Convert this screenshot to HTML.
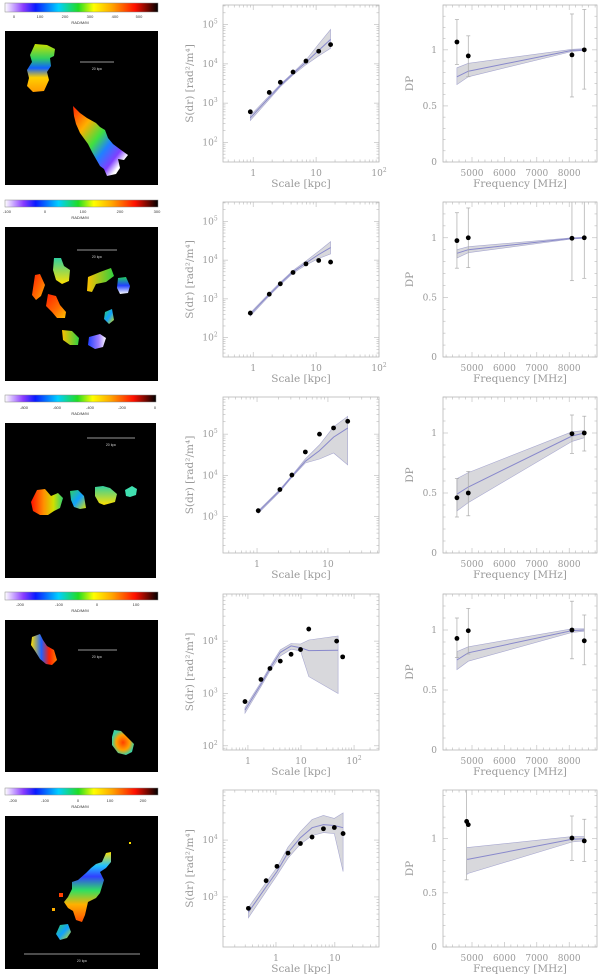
<!DOCTYPE html>
<html><head><meta charset="utf-8">
<style>
html,body{margin:0;padding:0;background:#fff;}
svg{display:block;font-family:"DejaVu Serif","Liberation Serif",serif;}
</style></head>
<body>
<svg id="fig" width="600" height="976" viewBox="0 0 600 976" xmlns="http://www.w3.org/2000/svg">
<defs>
<linearGradient id="cmap" x1="0" x2="1" y1="0" y2="0">
<stop offset="0" stop-color="#ffffff"/><stop offset="0.12" stop-color="#8a3cff"/><stop offset="0.2" stop-color="#0a1aff"/>
<stop offset="0.35" stop-color="#00d0ff"/><stop offset="0.48" stop-color="#22dd22"/><stop offset="0.58" stop-color="#ffff00"/>
<stop offset="0.7" stop-color="#ffa500"/><stop offset="0.85" stop-color="#ff1000"/><stop offset="1" stop-color="#000000"/>
</linearGradient>
<linearGradient id="gA" x1="0" x2="0" y1="0" y2="1"><stop offset="0" stop-color="#c8e000"/><stop offset="0.3" stop-color="#30d060"/><stop offset="0.5" stop-color="#1060ff"/><stop offset="0.7" stop-color="#ffd000"/><stop offset="1" stop-color="#ff9a00"/></linearGradient>
<linearGradient id="gB" x1="0" x2="1" y1="0" y2="1"><stop offset="0" stop-color="#ff2000"/><stop offset="0.25" stop-color="#ffb000"/><stop offset="0.45" stop-color="#40e040"/><stop offset="0.6" stop-color="#2080ff"/><stop offset="0.75" stop-color="#8040ff"/><stop offset="0.85" stop-color="#ffffff"/><stop offset="1" stop-color="#ffffff"/></linearGradient>
<linearGradient id="gRed" x1="0" x2="1" y1="0" y2="1"><stop offset="0" stop-color="#ff2000"/><stop offset="0.6" stop-color="#ff7000"/><stop offset="1" stop-color="#ffc000"/></linearGradient>
<linearGradient id="gYG" x1="0" x2="1" y1="0" y2="0"><stop offset="0" stop-color="#ffc000"/><stop offset="1" stop-color="#30d040"/></linearGradient>
<linearGradient id="gCY" x1="0" x2="0" y1="0" y2="1"><stop offset="0" stop-color="#30d0a0"/><stop offset="1" stop-color="#ffe000"/></linearGradient>
<linearGradient id="gBW" x1="0" x2="0" y1="0" y2="1"><stop offset="0" stop-color="#20d060"/><stop offset="0.5" stop-color="#2040ff"/><stop offset="1" stop-color="#ffffff"/></linearGradient>
<linearGradient id="gBlueW" x1="0" x2="1" y1="0" y2="0"><stop offset="0" stop-color="#2040ff"/><stop offset="0.6" stop-color="#a080ff"/><stop offset="1" stop-color="#ffffff"/></linearGradient>
<linearGradient id="gR3" x1="0" x2="1" y1="0" y2="0"><stop offset="0" stop-color="#ff1000"/><stop offset="0.4" stop-color="#ff9000"/><stop offset="0.7" stop-color="#d0e000"/><stop offset="1" stop-color="#30d070"/></linearGradient>
<linearGradient id="gGC" x1="0" x2="1" y1="0" y2="1"><stop offset="0" stop-color="#30d060"/><stop offset="0.5" stop-color="#10a0ff"/><stop offset="1" stop-color="#e0e000"/></linearGradient>
<linearGradient id="gR4a" x1="0" x2="1" y1="0" y2="0"><stop offset="0" stop-color="#ffe000"/><stop offset="0.4" stop-color="#2060ff"/><stop offset="0.7" stop-color="#ff2000"/><stop offset="1" stop-color="#ff8000"/></linearGradient>
<radialGradient id="gR4b"><stop offset="0" stop-color="#ff4000"/><stop offset="0.6" stop-color="#ffa000"/><stop offset="1" stop-color="#40d0a0"/></radialGradient>
<linearGradient id="gR5" x1="0" x2="0" y1="0" y2="1"><stop offset="0" stop-color="#ffe000"/><stop offset="0.2" stop-color="#20c0ff"/><stop offset="0.35" stop-color="#3040ff"/><stop offset="0.55" stop-color="#30e060"/><stop offset="0.75" stop-color="#ffb000"/><stop offset="1" stop-color="#ff5000"/></linearGradient>
</defs>

<g>
<rect x="5" y="3" width="153" height="9" fill="url(#cmap)" stroke="#888" stroke-width="0.5"/>
<g font-size="4" fill="#333" font-family="Liberation Sans,sans-serif" text-anchor="middle">
<text x="14" y="18">0</text><text x="40" y="18">100</text><text x="65" y="18">200</text><text x="90" y="18">300</text><text x="115" y="18">400</text><text x="139" y="18">500</text>
<text x="80" y="24">RAD/M/M</text></g>
<rect x="5" y="31" width="153" height="154" fill="#000"/>
<polygon points="35,44 47,45 55,49 54,56 50,58 51,66 47,72 49,80 44,91 33,92 27,86 29,78 27,70 32,62 30,55" fill="url(#gA)"/>
<polygon points="73,106 80,113 87,118 96,123 100,127 105,130 108,138 113,144 121,150 128,155 124,160 118,159 120,168 116,174 107,176 104,169 100,166 92,152 88,144 80,133 76,124 74,116" fill="url(#gB)"/>
<line x1="80" y1="62" x2="114" y2="62" stroke="#ccc" stroke-width="0.8"/><text x="97" y="70" font-size="3.5" fill="#ccc" text-anchor="middle" font-family="Liberation Sans,sans-serif">20 kpc</text>
</g>

<g>
<rect x="5" y="200" width="153" height="7" fill="url(#cmap)" stroke="#888" stroke-width="0.5"/>
<g font-size="4" fill="#333" font-family="Liberation Sans,sans-serif" text-anchor="middle">
<text x="7" y="213">-100</text><text x="45" y="213">0</text><text x="83" y="213">100</text><text x="120" y="213">200</text><text x="157" y="213">300</text>
<text x="80" y="219">RAD/M/M</text></g>
<rect x="5" y="227" width="153" height="154" fill="#000"/>
<polygon points="35,275 40,274 45,285 41,296 36,300 32,295" fill="url(#gRed)"/>
<polygon points="48,294 56,296 60,305 66,312 65,318 57,318 52,312 46,306" fill="url(#gRed)"/>
<polygon points="54,258 61,258 64,266 70,270 69,281 62,284 56,280 53,270" fill="url(#gCY)"/>
<polygon points="88,277 100,272 111,268 114,276 106,282 96,284 92,292 87,291" fill="url(#gYG)"/>
<polygon points="118,278 126,277 130,286 128,293 120,294 117,288" fill="url(#gBW)"/>
<polygon points="105,312 112,309 114,320 109,324 104,319" fill="url(#gGC)"/>
<polygon points="62,330 72,331 79,338 78,345 70,345 63,340" fill="url(#gYG)"/>
<polygon points="89,337 100,334 106,338 103,347 95,349 88,345" fill="url(#gBlueW)"/>
<line x1="77" y1="250" x2="117" y2="250" stroke="#ccc" stroke-width="0.8"/><text x="97" y="258" font-size="3.5" fill="#ccc" text-anchor="middle" font-family="Liberation Sans,sans-serif">20 kpc</text>
</g>

<g>
<rect x="5" y="395" width="151" height="7" fill="url(#cmap)" stroke="#888" stroke-width="0.5"/>
<g font-size="4" fill="#333" font-family="Liberation Sans,sans-serif" text-anchor="middle">
<text x="24" y="409">-800</text><text x="57" y="409">-600</text><text x="90" y="409">-400</text><text x="122" y="409">-200</text><text x="155" y="409">0</text>
<text x="80" y="415">RAD/M/M</text></g>
<rect x="5" y="423" width="151" height="155" fill="#000"/>
<polygon points="37,490 45,489 51,496 58,493 63,498 60,508 54,511 48,515 40,515 33,511 31,502" fill="url(#gR3)"/>
<polygon points="70,491 78,490 84,496 86,508 80,509 74,507 71,500" fill="url(#gGC)"/>
<polygon points="95,487 103,486 110,488 117,494 115,502 104,505 99,503 95,496" fill="url(#gCY)"/>
<polygon points="125,490 132,486 137,489 136,495 130,497 126,496" fill="#40e0b0"/>
<line x1="87" y1="438" x2="135" y2="438" stroke="#ccc" stroke-width="0.8"/><text x="111" y="446" font-size="3.5" fill="#ccc" text-anchor="middle" font-family="Liberation Sans,sans-serif">20 kpc</text>
</g>

<g>
<rect x="5" y="592" width="153" height="8" fill="url(#cmap)" stroke="#888" stroke-width="0.5"/>
<g font-size="4" fill="#333" font-family="Liberation Sans,sans-serif" text-anchor="middle">
<text x="20" y="606">-200</text><text x="59" y="606">-100</text><text x="97" y="606">0</text><text x="136" y="606">100</text>
<text x="80" y="612">RAD/M/M</text></g>
<rect x="5" y="620" width="153" height="152" fill="#000"/>
<polygon points="32,637 40,634 43,640 47,646 54,650 57,660 52,665 46,664 40,659 35,651 31,645" fill="url(#gR4a)"/>
<polygon points="114,730 121,731 128,738 134,744 132,752 126,755 118,753 112,745 112,737" fill="url(#gR4b)"/>
<line x1="78" y1="650" x2="117" y2="650" stroke="#ccc" stroke-width="0.8"/><text x="97" y="658" font-size="3.5" fill="#ccc" text-anchor="middle" font-family="Liberation Sans,sans-serif">20 kpc</text>
</g>

<g>
<rect x="5" y="788" width="153" height="7" fill="url(#cmap)" stroke="#888" stroke-width="0.5"/>
<g font-size="4" fill="#333" font-family="Liberation Sans,sans-serif" text-anchor="middle">
<text x="13" y="802">-200</text><text x="45" y="802">-100</text><text x="78" y="802">0</text><text x="110" y="802">100</text><text x="143" y="802">200</text>
<text x="80" y="808">RAD/M/M</text></g>
<rect x="5" y="816" width="153" height="153" fill="#000"/>
<polygon points="106,853 111,852 111,862 106,868 100,872 104,880 100,893 96,898 88,902 85,915 82,922 76,920 73,911 68,908 64,902 68,897 72,889 72,882 78,880 86,873 91,868 96,864 102,862" fill="url(#gR5)"/>
<polygon points="60,925 68,924 71,932 67,938 60,940 56,934" fill="url(#gGC)"/>
<rect x="59" y="893" width="4" height="4" fill="#ff4000"/><rect x="52" y="908" width="3" height="3" fill="#ffb000"/><rect x="129" y="842" width="2" height="2" fill="#ffe000"/>
<line x1="24" y1="954" x2="140" y2="954" stroke="#ccc" stroke-width="0.8"/><text x="82" y="962" font-size="3.5" fill="#ccc" text-anchor="middle" font-family="Liberation Sans,sans-serif">20 kpc</text>
</g>

<g id="plots"></g>
</svg>
<script>
// ---- Structure function data (Scale kpc, S(dr) rad^2/m^4) ----
const sfScale1=[0.9,1.8,2.7,4.3,6.9,11,17];
const sfValue1=[600,1870,3400,6200,11800,21000,31000];
const sfModel1=[420,1400,2800,5600,11000,22000,42000];
const sfLow1=[360,1250,2600,5200,9500,16000,25000];
const sfHigh1=[480,1550,3000,6000,12500,32000,75000];

const sfScale2=[0.9,1.8,2.7,4.3,6.9,11,17];
const sfValue2=[430,1320,2450,4800,8000,9800,8900];
const sfModel2=[400,1300,2500,5000,8500,14000,21000];
const sfLow2=[360,1200,2300,4600,7500,11000,14500];
const sfHigh2=[440,1400,2700,5400,9500,17000,30000];

const sfScale3=[1.04,2.1,3.1,4.8,7.6,12,19];
const sfValue3=[1400,4550,10200,37000,100000,141000,205000];
const sfModel3=[1300,4300,9500,22000,40000,85000,140000];
const sfLow3=[1200,4000,9000,20000,25000,35000,18000];
const sfHigh3=[1400,4600,10000,25000,55000,150000,270000];

const sfScale4=[0.88,1.76,2.6,4.07,6.5,9.8,14,47,61];
const sfValue4=[700,1850,3000,4150,5600,6900,17000,10000,5000];
const sfModelScale4=[0.88,1.76,2.6,4.07,6.5,9.8,14,50];
const sfModel4=[480,1500,3000,6100,8100,7500,6600,6700];
const sfLow4=[420,1350,2700,5200,7000,6500,2100,1000];
const sfHigh4=[540,1650,3300,6800,9000,8800,10500,12500];

const sfScale5=[0.34,0.68,1.04,1.6,2.6,4.1,6.4,9.8,13.8];
const sfValue5=[630,1930,3450,5900,8700,11300,15800,16600,13000];
const sfModel5=[540,1500,2800,6000,11000,16500,18700,18000,16500];
const sfLow5=[430,1250,2400,4800,8500,12000,13500,13000,2800];
const sfHigh5=[650,1800,3300,7500,14000,23000,27000,24000,30000];

// ---- Depolarization data (Frequency MHz, DP) ----
const dpFreq1=[4535,4885,8085,8465];
const dpValue1=[1.07,0.946,0.955,1.0];
const dpErrHi1=[1.27,1.125,1.32,1.36];
const dpErrLo1=[0.87,0.76,0.58,0.65];
const dpModel1=[0.76,0.81,0.995,1.0];
const dpLow1=[0.69,0.76,0.985,0.995];
const dpHigh1=[0.84,0.88,1.005,1.01];

const dpFreq2=[4535,4885,8085,8465];
const dpValue2=[0.976,1.0,0.996,1.0];
const dpErrHi2=[1.21,1.25,1.35,1.35];
const dpErrLo2=[0.745,0.75,0.64,0.66];
const dpModel2=[0.87,0.9,0.995,1.0];
const dpLow2=[0.83,0.875,0.99,0.995];
const dpHigh2=[0.9,0.925,1.0,1.005];

const dpFreq3=[4535,4885,8085,8465];
const dpValue3=[0.46,0.5,0.994,1.0];
const dpErrHi3=[0.62,0.68,1.15,1.14];
const dpErrLo3=[0.30,0.31,0.83,0.85];
const dpModel3=[0.49,0.55,0.975,1.0];
const dpLow3=[0.35,0.42,0.93,0.96];
const dpHigh3=[0.62,0.67,1.01,1.02];

const dpFreq4=[4535,4885,8085,8465];
const dpValue4=[0.93,0.994,1.0,0.91];
const dpErrHi4=[1.1,1.18,1.24,1.125];
const dpErrLo4=[0.77,0.8,0.76,0.71];
const dpModel4=[0.75,0.81,0.995,1.0];
const dpLow4=[0.67,0.74,0.98,0.99];
const dpHigh4=[0.82,0.86,1.01,1.01];

const dpFreq5=[4835,4885,8085,8465];
const dpValue5=[1.16,1.13,1.006,0.98];
const dpErrHi5=[1.6,1.13,1.21,1.18];
const dpErrLo5=[0.62,1.13,0.8,0.79];
const dpModel5=[0.81,0.81,0.995,1.0];
const dpLow5=[0.67,0.68,0.97,0.98];
const dpHigh5=[0.92,0.92,1.02,1.02];

const dpTickLabels=[5000,6000,7000,8000];

const NS="http://www.w3.org/2000/svg";
const root=document.getElementById('plots');
function mk(tag,attrs,parent){const e=document.createElementNS(NS,tag);for(const k in attrs)e.setAttribute(k,attrs[k]);(parent||root).appendChild(e);return e;}

const AX='#b8b8b8', TXT='#9a9a9a', LINE='#8888cc', BAND='#d8d8dc';
const TFS=9, TITFS=10.5;
const rowTops=[5,202,397,594,790];
const rowH=[157,155,156,156,157];
const midX0=223, midX1=379, rX0=443, rX1=597;
const sfXr=[[-0.48,2],[-0.48,2],[-0.48,1.72],[-0.47,2.47],[-0.9,1.75]];
const sfYr=[[1.5,5.5],[1.5,5.5],[2.12,5.9],[1.92,4.9],[2.12,4.88]];
const dpYmax=[1.4,1.3,1.3,1.3,1.45];
const dpXr=[4105,8858];

const sfSets=[
 [sfScale1,sfValue1,sfScale1,sfModel1,sfLow1,sfHigh1],
 [sfScale2,sfValue2,sfScale2,sfModel2,sfLow2,sfHigh2],
 [sfScale3,sfValue3,sfScale3,sfModel3,sfLow3,sfHigh3],
 [sfScale4,sfValue4,sfModelScale4,sfModel4,sfLow4,sfHigh4],
 [sfScale5,sfValue5,sfScale5,sfModel5,sfLow5,sfHigh5]];
const dpSets=[
 [dpFreq1,dpValue1,dpErrHi1,dpErrLo1,dpModel1,dpLow1,dpHigh1],
 [dpFreq2,dpValue2,dpErrHi2,dpErrLo2,dpModel2,dpLow2,dpHigh2],
 [dpFreq3,dpValue3,dpErrHi3,dpErrLo3,dpModel3,dpLow3,dpHigh3],
 [dpFreq4,dpValue4,dpErrHi4,dpErrLo4,dpModel4,dpLow4,dpHigh4],
 [dpFreq5,dpValue5,dpErrHi5,dpErrLo5,dpModel5,dpLow5,dpHigh5]];

function pathOf(xs,ys){return xs.map((x,i)=>(i?'L':'M')+x.toFixed(1)+','+ys[i].toFixed(1)).join(' ');}

for(let r=0;r<5;r++){
 const top=rowTops[r], h=rowH[r], bot=top+h;
 const g=mk('g',{});
 
 
 const [xa,xb]=sfXr[r],[ya,yb]=sfYr[r];
 const sx=v=>midX0+(Math.log10(v)-xa)/(xb-xa)*(midX1-midX0);
 const sy=v=>bot-(Math.log10(v)-ya)/(yb-ya)*h;
 const cid='clipSF'+r;
 const cp=mk('clipPath',{id:cid},g); mk('rect',{x:midX0,y:top,width:midX1-midX0,height:h},cp);
 const [pS,pV,mS,mV,mL,mH]=sfSets[r];
 const mx=mS.map(sx);
 const band=mk('path',{d:pathOf(mx,mH.map(sy))+' '+pathOf(mx.slice().reverse(),mL.map(sy).reverse()).replace('M','L')+' Z',fill:BAND,stroke:'#a8a8d0','stroke-width':0.6,'clip-path':'url(#'+cid+')'},g);
 
 
 const ml=mk('path',{d:pathOf(mx,mV.map(sy)),fill:'none',stroke:LINE,'stroke-width':1,'clip-path':'url(#'+cid+')'},g);
 
 
 pS.forEach((s,i)=>{const c=mk('circle',{cx:sx(s),cy:sy(pV[i]),r:2.4,fill:'#000'},g);
  
  });
 mk('rect',{x:midX0,y:top,width:midX1-midX0,height:h,fill:'none',stroke:AX,'stroke-width':0.8},g);
 for(let d=Math.floor(xa);d<=Math.ceil(xb);d++){for(let m=1;m<10;m++){const lv=d+Math.log10(m);if(lv<xa||lv>xb)continue;const x=midX0+(lv-xa)/(xb-xa)*(midX1-midX0);const L=m==1?5:2.5;
  mk('line',{x1:x,x2:x,y1:bot,y2:bot-L,stroke:AX,'stroke-width':0.6},g);mk('line',{x1:x,x2:x,y1:top,y2:top+L,stroke:AX,'stroke-width':0.6},g);
  if(m==1){const t=mk('text',{x:x,y:bot+14,'font-size':TFS,fill:TXT,'text-anchor':'middle'},g);
   if(d<=1){t.textContent=d==0?'1':'10';}else{t.textContent='10';const sp=mk('tspan',{dy:-4,'font-size':6},t);sp.textContent=String(d);}
   
   }}}
 for(let d=Math.floor(ya);d<=Math.ceil(yb);d++){for(let m=1;m<10;m++){const lv=d+Math.log10(m);if(lv<ya||lv>yb)continue;const y=bot-(lv-ya)/(yb-ya)*h;const L=m==1?5:2.5;
  mk('line',{x1:midX0,x2:midX0+L,y1:y,y2:y,stroke:AX,'stroke-width':0.6},g);mk('line',{x1:midX1,x2:midX1-L,y1:y,y2:y,stroke:AX,'stroke-width':0.6},g);
  if(m==1){const t=mk('text',{x:midX0-13,y:y+3,'font-size':TFS,fill:TXT,'text-anchor':'middle'},g);t.textContent='10';const sp=mk('tspan',{dy:-4,'font-size':6},t);sp.textContent=String(d);
   
   }}}
 const xl=mk('text',{x:(midX0+midX1)/2,y:bot+25,'font-size':TITFS,fill:TXT,'text-anchor':'middle'},g);xl.textContent='Scale [kpc]';
 
 
 const yl=mk('text',{x:0,y:0,'font-size':TITFS,fill:TXT,'text-anchor':'middle',transform:'translate(193,'+(top+h/2)+') rotate(-90)'},g);
 yl.textContent='S(dr) [rad²/m⁴]';
 
 

 const q=mk('g',{});
 
 
 const ym=dpYmax[r];
 const fx=f=>rX0+(f-dpXr[0])/(dpXr[1]-dpXr[0])*(rX1-rX0);
 const fy=v=>bot-v/ym*h;
 const cid2='clipDP'+r;
 const cp2=mk('clipPath',{id:cid2},q); mk('rect',{x:rX0,y:top,width:rX1-rX0,height:h},cp2);
 const [F,V,EH,EL,M,ML,MH]=dpSets[r];
 const fxs=F.map(fx);
 const b2=mk('path',{d:pathOf(fxs,MH.map(fy))+' '+pathOf(fxs.slice().reverse(),ML.map(fy).reverse()).replace('M','L')+' Z',fill:BAND,stroke:'#a8a8d0','stroke-width':0.6},q);
 
 
 const l2=mk('path',{d:pathOf(fxs,M.map(fy)),fill:'none',stroke:LINE,'stroke-width':1},q);
 
 
 F.forEach((f,i)=>{const x=fx(f);
  const eb=mk('g',{'clip-path':'url(#'+cid2+')'},q);
  mk('line',{x1:x,x2:x,y1:fy(EH[i]),y2:fy(EL[i]),stroke:'#aaa','stroke-width':0.7},eb);
  mk('line',{x1:x-2,x2:x+2,y1:fy(EH[i]),y2:fy(EH[i]),stroke:'#aaa','stroke-width':0.7},eb);
  mk('line',{x1:x-2,x2:x+2,y1:fy(EL[i]),y2:fy(EL[i]),stroke:'#aaa','stroke-width':0.7},eb);
  
  
  const c=mk('circle',{cx:x,cy:fy(V[i]),r:2.4,fill:'#000'},q);
  
  });
 mk('rect',{x:rX0,y:top,width:rX1-rX0,height:h,fill:'none',stroke:AX,'stroke-width':0.8},q);
 for(let f=4200;f<=8800;f+=200){const x=fx(f);const L=f%1000==0?5:2.5;
  mk('line',{x1:x,x2:x,y1:bot,y2:bot-L,stroke:AX,'stroke-width':0.6},q);mk('line',{x1:x,x2:x,y1:top,y2:top+L,stroke:AX,'stroke-width':0.6},q);}
 dpTickLabels.forEach(f=>{const t=mk('text',{x:fx(f),y:bot+14,'font-size':TFS,fill:TXT,'text-anchor':'middle'},q);t.textContent=String(f);
  
  });
 for(let v=0;v<=ym+1e-9;v+=0.1){const y=fy(v);const maj=Math.abs(v*2-Math.round(v*2))<1e-6;const L=maj?5:2.5;
  mk('line',{x1:rX0,x2:rX0+L,y1:y,y2:y,stroke:AX,'stroke-width':0.6},q);mk('line',{x1:rX1,x2:rX1-L,y1:y,y2:y,stroke:AX,'stroke-width':0.6},q);}
 ['0','0.5','1'].forEach((s,i)=>{const t=mk('text',{x:rX0-6,y:fy(i*0.5)+3,'font-size':TFS,fill:TXT,'text-anchor':'end'},q);t.textContent=s;
  
  });
 const xl2=mk('text',{x:(rX0+rX1)/2,y:bot+25,'font-size':TITFS,fill:TXT,'text-anchor':'middle'},q);xl2.textContent='Frequency [MHz]';
 
 
 const yl2=mk('text',{x:0,y:0,'font-size':TITFS,fill:TXT,'text-anchor':'middle',transform:'translate(413,'+(top+h/2)+') rotate(-90)'},q);yl2.textContent='DP';
 
 
}
</script>
</body></html>
